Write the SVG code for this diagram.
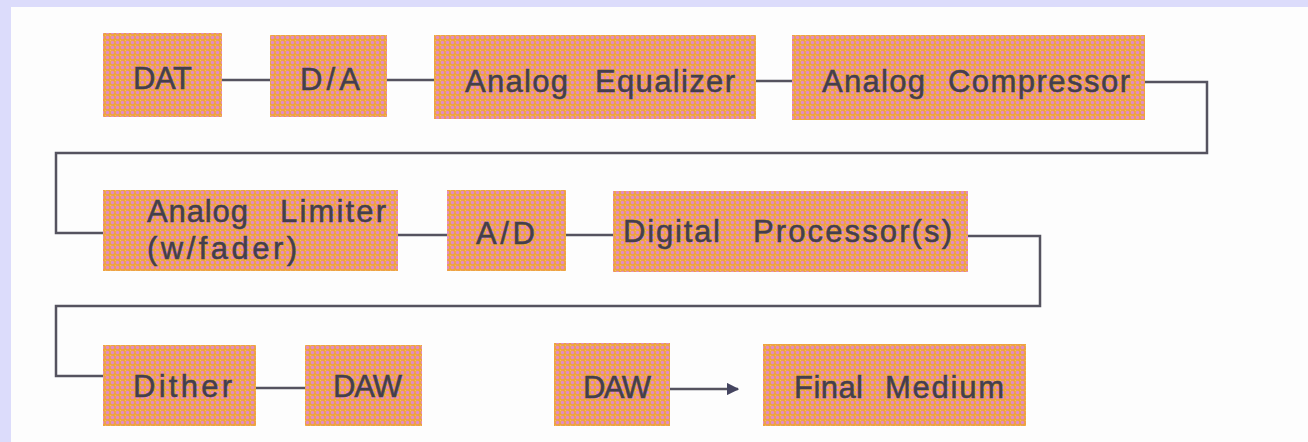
<svg xmlns="http://www.w3.org/2000/svg" width="1308" height="442" viewBox="0 0 1308 442">
  <defs>
    <pattern id="halftone" x="0" y="0" width="5" height="5" patternUnits="userSpaceOnUse">
      <rect width="5" height="5" fill="#eea33e"/>
      <circle cx="2.5" cy="2.5" r="1.7" fill="#e48ac6"/>
      <rect x="0" y="0" width="1.2" height="1.2" fill="#f4c070" opacity="0.7"/>
    </pattern>
    <marker id="arrow" viewBox="0 0 10 10" refX="9" refY="5" markerWidth="5" markerHeight="5" markerUnits="strokeWidth" orient="auto">
      <path d="M0,0 L10,5 L0,10 Z" fill="#454560"/>
    </marker>
    <style>
      .box { fill: url(#halftone); }
      .lbl { font-family: "Liberation Sans", Arial, sans-serif; font-size: 31px; fill: #433f4d; stroke: #433f4d; stroke-width: 0.5; }
      .wire { fill: none; stroke: #55535f; stroke-width: 2.5; }
    </style>
  </defs>

  <rect width="1308" height="442" fill="#fdfdfd"/>
  <rect x="0" y="0" width="1308" height="7" fill="#dcdcfb"/>
  <rect x="0" y="0" width="11" height="442" fill="#dcdcfb"/>

  <g id="connectors">
    <path class="wire" d="M222 80 H270"/>
    <path class="wire" d="M387 80 H434"/>
    <path class="wire" d="M756 81 H792"/>
    <path class="wire" d="M1145 82 H1207 V153 H56 V233 H103"/>
    <path class="wire" d="M398 235 H447"/>
    <path class="wire" d="M566 235 H613"/>
    <path class="wire" d="M968 236 H1040 V306 H56 V376 H103"/>
    <path class="wire" d="M256 388 H305"/>
    <path class="wire" d="M670 389 H738" marker-end="url(#arrow)"/>
  </g>

  <g id="n_dat">
    <rect class="box" x="103" y="33" width="119" height="84"/>
    <text class="lbl" x="133" y="89" textLength="59" lengthAdjust="spacing">DAT</text>
  </g>
  <g id="n_da">
    <rect class="box" x="270" y="35" width="117" height="82"/>
    <text class="lbl" x="300" y="90" textLength="60" lengthAdjust="spacing">D/A</text>
  </g>
  <g id="n_eq">
    <rect class="box" x="434" y="35" width="322" height="84"/>
    <text class="lbl" y="92"><tspan x="465" textLength="103" lengthAdjust="spacing">Analog</tspan><tspan x="595" textLength="140" lengthAdjust="spacing">Equalizer</tspan></text>
  </g>
  <g id="n_comp">
    <rect class="box" x="792" y="35" width="353" height="85"/>
    <text class="lbl" y="92"><tspan x="822" textLength="103" lengthAdjust="spacing">Analog</tspan><tspan x="948" textLength="182" lengthAdjust="spacing">Compressor</tspan></text>
  </g>

  <g id="n_lim">
    <rect class="box" x="103" y="190" width="295" height="81"/>
    <text class="lbl" y="222"><tspan x="147" textLength="101" lengthAdjust="spacing">Analog</tspan><tspan x="280" textLength="106" lengthAdjust="spacing">Limiter</tspan></text>
    <text class="lbl" x="147" y="259" textLength="150" lengthAdjust="spacing">(w/fader)</text>
  </g>
  <g id="n_ad">
    <rect class="box" x="447" y="190" width="119" height="81"/>
    <text class="lbl" x="476" y="244" textLength="59" lengthAdjust="spacing">A/D</text>
  </g>
  <g id="n_dp">
    <rect class="box" x="613" y="191" width="355" height="81"/>
    <text class="lbl" y="242"><tspan x="623" textLength="97" lengthAdjust="spacing">Digital</tspan><tspan x="753" textLength="199" lengthAdjust="spacing">Processor(s)</tspan></text>
  </g>

  <g id="n_dither">
    <rect class="box" x="103" y="345" width="153" height="81"/>
    <text class="lbl" x="133" y="397" textLength="99" lengthAdjust="spacing">Dither</text>
  </g>
  <g id="n_daw1">
    <rect class="box" x="305" y="345" width="117" height="81"/>
    <text class="lbl" x="333" y="397" textLength="69" lengthAdjust="spacing">DAW</text>
  </g>
  <g id="n_daw2">
    <rect class="box" x="554" y="343" width="116" height="83"/>
    <text class="lbl" x="583" y="398" textLength="68" lengthAdjust="spacing">DAW</text>
  </g>
  <g id="n_final">
    <rect class="box" x="763" y="344" width="263" height="82"/>
    <text class="lbl" y="398"><tspan x="794" textLength="69" lengthAdjust="spacing">Final</tspan><tspan x="885" textLength="119" lengthAdjust="spacing">Medium</tspan></text>
  </g>
</svg>
